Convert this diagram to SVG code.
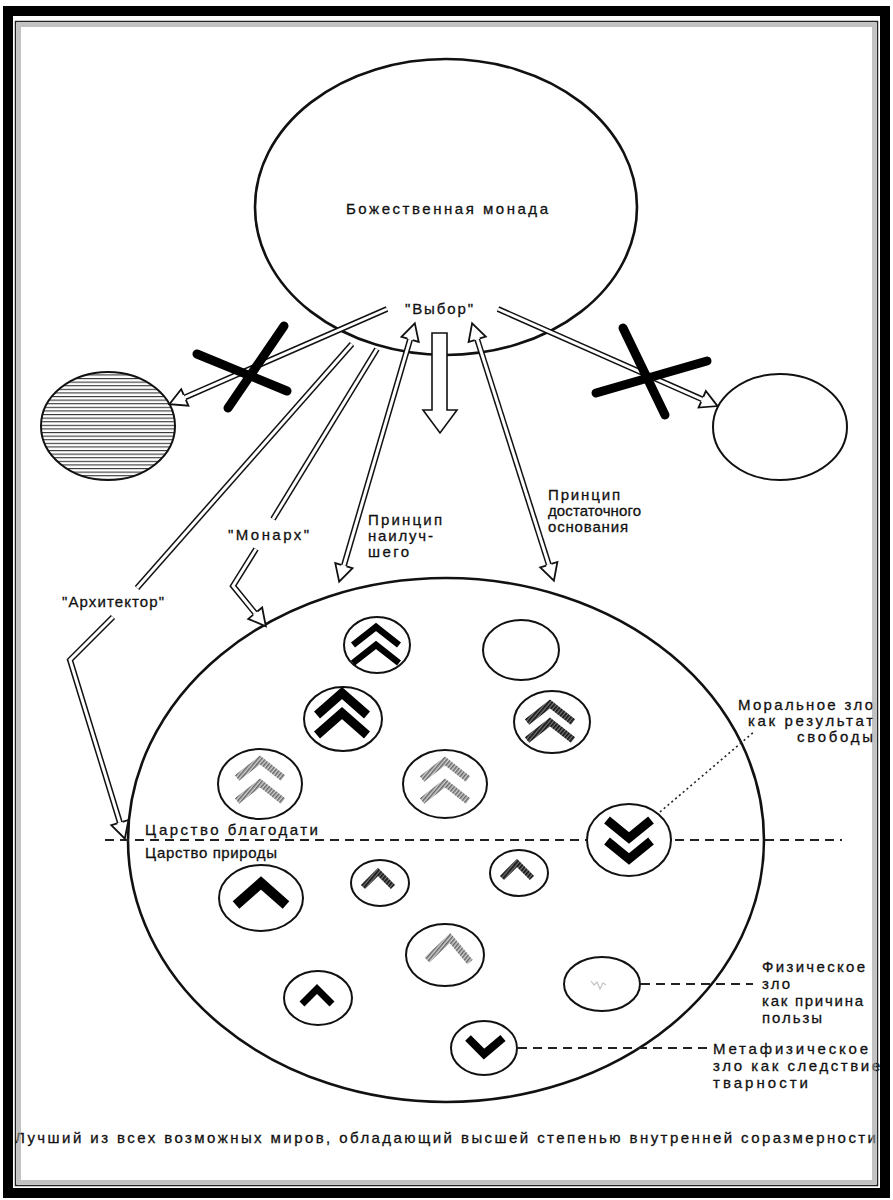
<svg xmlns="http://www.w3.org/2000/svg" width="893" height="1200" viewBox="0 0 893 1200">
<style>
.t{font-family:"Liberation Sans",Arial,sans-serif;font-size:15px;fill:#111;stroke:#111;stroke-width:0.3}
.node{fill:#fff;stroke:#111;stroke-width:2}
.big{fill:#fff;stroke:#111;stroke-width:2.6}
.so{fill:none;stroke:#111;stroke-width:6;stroke-linejoin:miter}
.si{fill:none;stroke:#fff;stroke-width:3;stroke-linejoin:miter}
.xm{stroke:#000;stroke-width:9;stroke-linecap:round;fill:none}
.cb{fill:none;stroke:#000;stroke-linejoin:miter;stroke-miterlimit:10}
.ch{fill:none;stroke:url(#hd);stroke-linejoin:miter}
.cl{fill:none;stroke:url(#hl);stroke-linejoin:miter}
.dash{fill:none;stroke:#222;stroke-width:1.8;stroke-dasharray:9 6}
</style>
<defs>
<marker id="ah" markerUnits="userSpaceOnUse" markerWidth="24" markerHeight="24" viewBox="-2 -10 20 20" refX="0" refY="0" orient="auto-start-reverse" overflow="visible">
<path d="M0,-2.25 L0,-7.5 L14,0 L0,7.5 L0,2.25" fill="#fff" stroke="#111" stroke-width="1.5"/>
</marker>
<pattern id="hz" width="6" height="3.6" patternUnits="userSpaceOnUse">
<rect width="6" height="3.6" fill="#fff"/><rect width="6" height="1.1" fill="#333"/>
</pattern>
<pattern id="hd" width="3" height="3" patternUnits="userSpaceOnUse" patternTransform="rotate(40)">
<rect width="3" height="3" fill="#777"/><rect width="1.7" height="3" fill="#151515"/>
</pattern>
<pattern id="hl" width="3" height="3" patternUnits="userSpaceOnUse" patternTransform="rotate(40)">
<rect width="3" height="3" fill="#d0d0d0"/><rect width="1.5" height="3" fill="#666"/>
</pattern>
<path id="cvA" d="M-23,9 L0,-9 L23,9"/>
<path id="cvB" d="M-25,11 L0,-11 L25,11"/>
<path id="cvS" d="M-15,8 L0,-7 L15,8"/>
<path id="cvD" d="M-22,-9 L0,9 L22,-9"/>
</defs>
<rect width="893" height="1200" fill="#fff"/>

<g id="monad">
<ellipse class="big" cx="446" cy="207" rx="191" ry="148"/>
<text class="t" x="447" y="214" font-size="17" text-anchor="middle" textLength="202">Божественная монада</text>
<text class="t" x="439" y="314" text-anchor="middle" textLength="68">"Выбор"</text>
</g>

<g id="world-rejected-hatched">
<ellipse cx="108" cy="426" rx="67" ry="54" fill="url(#hz)" stroke="#111" stroke-width="2"/>
</g>
<g id="world-rejected-empty">
<ellipse class="node" cx="780" cy="427" rx="67" ry="53"/>
</g>

<g id="best-world">
<ellipse class="big" cx="446" cy="840" rx="318" ry="262"/>
</g>

<g id="connectors">
<path class="dash" d="M105,840 L842,840"/>
<path class="dash" stroke-dasharray="8 6" d="M641,984 L753,984"/>
<path class="dash" stroke-dasharray="8 6" d="M518,1048 L711,1048"/>
<path fill="none" stroke="#222" stroke-width="1.6" stroke-dasharray="2 3" d="M660,812 L755,731"/>

<path class="so" d="M387,309 L184.8,397.4"/><path class="si" marker-end="url(#ah)" d="M387,309 L184.8,397.4"/>
<path class="so" d="M498,309 L702.2,399.3"/><path class="si" marker-end="url(#ah)" d="M498,309 L702.2,399.3"/>
<path class="so" d="M410.1,339.4 L343.9,565.6"/><path class="si" marker-start="url(#ah)" marker-end="url(#ah)" d="M410.1,339.4 L343.9,565.6"/>
<path class="so" d="M477.2,339.3 L548.8,564.7"/><path class="si" marker-start="url(#ah)" marker-end="url(#ah)" d="M477.2,339.3 L548.8,564.7"/>
<path class="so" d="M377,349 L273,519"/><path class="si" d="M377,349 L273,519"/>
<path class="so" d="M256,549 L233,586 L255.2,613.2"/><path class="si" marker-end="url(#ah)" d="M256,549 L233,586 L255.2,613.2"/>
<path class="so" d="M352,344 L137,588"/><path class="si" d="M352,344 L137,588"/>
<path class="so" d="M113,617 L70,660 L119.9,822.6"/><path class="si" marker-end="url(#ah)" d="M113,617 L70,660 L119.9,822.6"/>
<polygon points="432,333 447,333 447,410 457,410 440,433 423,410 432,410" fill="#fff" stroke="#111" stroke-width="1.6"/>

<path class="xm" d="M197,354 L287,391"/>
<path class="xm" d="M284,326 L228,408"/>
<path class="xm" d="M623,328 L665,415"/>
<path class="xm" d="M596,393 L707,361"/>
</g>

<g id="m1"><ellipse class="node" cx="377" cy="645" rx="33" ry="28"/>
<use href="#cvA" x="376" y="636" class="cb" stroke-width="6.5"/><use href="#cvA" x="376" y="654" class="cb" stroke-width="6.5"/></g>
<g id="m2"><ellipse class="node" cx="521" cy="650" rx="38" ry="30"/></g>
<g id="m3"><ellipse class="node" cx="343" cy="719" rx="39" ry="32"/>
<use href="#cvB" x="342" y="704" class="cb" stroke-width="9"/><use href="#cvB" x="342" y="724" class="cb" stroke-width="9"/></g>
<g id="m4"><ellipse class="node" cx="552" cy="722" rx="38" ry="31"/>
<use href="#cvA" x="550" y="713" class="ch" stroke-width="7"/><use href="#cvA" x="550" y="731" class="ch" stroke-width="7"/></g>
<g id="m5"><ellipse class="node" cx="260" cy="784" rx="42" ry="35"/>
<use href="#cvA" x="260" y="769" class="cl" stroke-width="7"/><use href="#cvA" x="260" y="792" class="cl" stroke-width="7"/></g>
<g id="m6"><ellipse class="node" cx="445" cy="784" rx="42" ry="34"/>
<use href="#cvA" x="445" y="770" class="cl" stroke-width="7"/><use href="#cvA" x="445" y="792" class="cl" stroke-width="7"/></g>
<g id="m7"><ellipse class="node" cx="629" cy="840" rx="42" ry="36"/>
<use href="#cvD" x="629" y="829" class="cb" stroke-width="9"/><use href="#cvD" x="629" y="850" class="cb" stroke-width="9"/></g>
<g id="m8"><ellipse class="node" cx="261" cy="898" rx="42" ry="33"/>
<use href="#cvB" x="261" y="894" class="cb" stroke-width="10"/></g>
<g id="m9"><ellipse class="node" cx="380" cy="883" rx="29" ry="23"/>
<use href="#cvS" x="378" y="879" class="ch" stroke-width="6"/></g>
<g id="m10"><ellipse class="node" cx="519" cy="873" rx="29" ry="23"/>
<use href="#cvS" x="517" y="870" class="ch" stroke-width="6"/></g>
<g id="m11"><ellipse class="node" cx="445" cy="955" rx="39" ry="31"/>
<path class="cl" stroke-width="7" d="M427,960 L450,938 L470,962"/></g>
<g id="m12"><ellipse class="node" cx="318" cy="998" rx="34" ry="27"/>
<use href="#cvS" x="317" y="996" class="cb" stroke-width="7"/></g>
<g id="m13"><ellipse class="node" cx="484" cy="1048" rx="33" ry="27"/>
<path class="cb" stroke-width="8" d="M468,1038 L484,1054 L503,1038"/></g>
<g id="m14"><ellipse class="node" cx="602" cy="984" rx="38" ry="27"/>
<path fill="none" stroke="#c4c4c4" stroke-width="1.2" d="M591,981 l3,4 l3,-3 l3,7 l3,-6 l3,2"/></g>

<g id="labels">
<text class="t" x="368" y="525" textLength="74">Принцип</text>
<text class="t" x="368" y="541" textLength="65">наилуч-</text>
<text class="t" x="368" y="557" textLength="41">шего</text>
<text class="t" x="548" y="500" textLength="72">Принцип</text>
<text class="t" x="548" y="516" textLength="93">достаточного</text>
<text class="t" x="548" y="532" textLength="80">основания</text>
<text class="t" x="228" y="540" textLength="81">"Монарх"</text>
<text class="t" x="62" y="607" textLength="102">"Архитектор"</text>
<text class="t" x="145" y="835" textLength="173">Царство благодати</text>
<text class="t" x="145" y="858" textLength="132">Царство природы</text>
<text class="t" x="738" y="710" textLength="135">Моральное зло</text>
<text class="t" x="748" y="726" textLength="125">как результат</text>
<text class="t" x="797" y="742" textLength="76">свободы</text>
<text class="t" x="762" y="972" textLength="103">Физическое</text>
<text class="t" x="762" y="989" textLength="28">зло</text>
<text class="t" x="762" y="1006" textLength="101">как причина</text>
<text class="t" x="762" y="1023" textLength="60">пользы</text>
<text class="t" x="713" y="1054" textLength="155">Метафизическое</text>
<text class="t" x="713" y="1071" textLength="167">зло как следствие</text>
<text class="t" x="713" y="1088" textLength="95">тварности</text>
<text class="t" x="15" y="1143" font-size="17" textLength="861">Лучший из всех возможных миров, обладающий высшей степенью внутренней соразмерности</text>
</g>

<g id="frame">
<rect x="8" y="11" width="877" height="1182" fill="none" stroke="#000" stroke-width="10"/>
<rect x="15.5" y="21.5" width="862" height="1164" fill="none" stroke="#222" stroke-width="1.5"/>
<rect x="19" y="25" width="855" height="1157" fill="none" stroke="#9a9a9a" stroke-width="4" opacity="0.6"/>
</g>
</svg>
